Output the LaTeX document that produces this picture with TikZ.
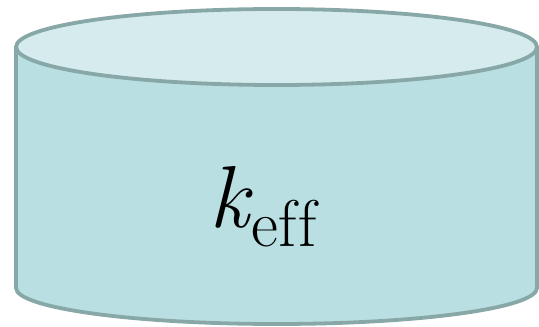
\documentclass[tikz,border=0pt]{standalone}
\definecolor{bodyfill}{HTML}{B9DFE2}
\definecolor{topfill}{HTML}{D6EBEE}
\definecolor{edge}{HTML}{88A8A8}
\begin{document}
\begin{tikzpicture}[x=1pt,y=1pt,
  cyl/.style={draw=edge,line width=3.8pt,line join=round}]
\useasboundingbox (0,0) rectangle (539,327);
\fill[bodyfill] (16,280) -- (16,39) arc[start angle=180,end angle=360,x radius=260.5,y radius=36] -- (537,280) -- cycle;
\draw[cyl] (16,280) -- (16,39) arc[start angle=180,end angle=360,x radius=260.5,y radius=36] -- (537,280);
\draw[cyl,fill=topfill] (276.5,280) ellipse[x radius=260.5,y radius=38];
\node (label) at (263,120) {\fontsize{88}{96}\selectfont\itshape k\kern2pt\upshape\raisebox{-19pt}{\fontsize{66}{76}\selectfont e\kern1pt f\kern1pt f}};
\end{tikzpicture}
\end{document}
